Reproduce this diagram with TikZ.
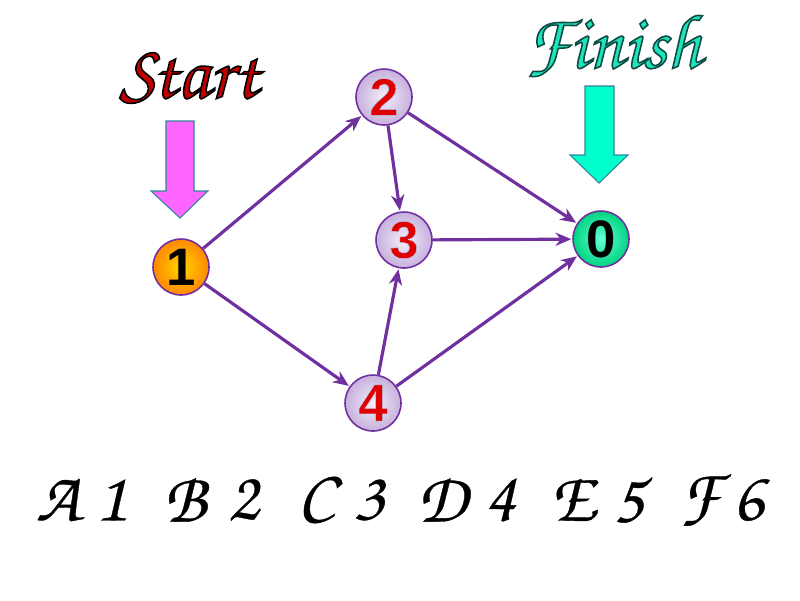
\documentclass[tikz,border=0pt]{standalone}
\usepackage{fontspec}
\setmainfont{Liberation Sans}
\newfontfamily\handfont{texgyrechorus-mediumitalic.otf}
\usetikzlibrary{arrows.meta}

\definecolor{edgepurple}{HTML}{7030A0}
\definecolor{startred}{HTML}{C00000}
\definecolor{finishteal}{HTML}{1FE3BA}
\definecolor{pinkfill}{HTML}{FF66FF}
\definecolor{mintfill}{HTML}{00FFCC}
\definecolor{arrowrim}{HTML}{31849B}
\definecolor{digitred}{HTML}{E00000}

% filled text with a stroked outline (text render mode 2)
\newcommand{\strokedtext}[3]{%
  \special{pdf:literal direct 2 Tr #2 w #1 RG}#3\special{pdf:literal direct 0 Tr}}

\tikzset{
  vertex/.style={circle, draw=edgepurple, line width=0.9pt,
    minimum size=1.12cm, inner sep=0pt,
    font=\fontsize{30}{30}\selectfont\bfseries},
  midvertex/.style={vertex, shading=radial,
    inner color={rgb,255:red,244;green,239;blue,249},
    outer color={rgb,255:red,198;green,176;blue,220},
    text=digitred},
  startvertex/.style={vertex, shading=radial,
    inner color={rgb,255:red,255;green,212;blue,0},
    outer color={rgb,255:red,255;green,136;blue,0}},
  endvertex/.style={vertex, shading=radial,
    inner color={rgb,255:red,100;green,255;blue,215},
    outer color={rgb,255:red,0;green,212;blue,128}},
  link/.style={draw=edgepurple, line width=1.8pt,
    -{Stealth[length=9pt,width=7.5pt]}, shorten >=0.5pt},
  bigarrow/.style={draw=arrowrim, line width=0.6pt, line join=miter},
  caption/.style={font=\handfont\fontsize{40}{40}\selectfont, inner sep=0pt},
  title/.style={font=\handfont\fontsize{44}{44}\selectfont, inner sep=0pt}
}

\begin{document}
\begin{tikzpicture}[x=0.02cm, y=-0.02cm]
  \useasboundingbox (0,0) rectangle (800,600);

  % vertices
  \node[startvertex] (n1) at (181,267) {1};
  \node[midvertex]   (n2) at (384,97)  {\strokedtext{0.7 0.82 0.96}{0.3}{2}};
  \node[midvertex]   (n3) at (404,240) {\strokedtext{0.7 0.82 0.96}{0.3}{3}};
  \node[midvertex]   (n4) at (373,403) {\strokedtext{0.7 0.82 0.96}{0.3}{4}};
  \node[endvertex]   (n0) at (601,239) {0};

  % precedence links
  \draw[link] (n1) -- (n2);
  \draw[link] (n1) -- (n4);
  \draw[link] (n2) -- (n3);
  \draw[link] (n2) -- (n0);
  \draw[link] (n3) -- (n0);
  \draw[link] (n4) -- (n3);
  \draw[link] (n4) -- (n0);

  % block arrows pointing at the start and finish vertices
  \draw[bigarrow, fill=pinkfill]
    (166,121) -- (194,121) -- (194,191) -- (208,191) -- (180,218)
    -- (151,191) -- (166,191) -- cycle;
  \draw[bigarrow, fill=mintfill]
    (585,86) -- (614,86) -- (614,155) -- (628,155) -- (599,183)
    -- (570,155) -- (585,155) -- cycle;

  % activity labels
  \foreach \lab/\xx [count=\i] in {A/58, 1/111, B/185, 2/243, C/316, 3/369,
                                  D/442, 4/500, E/572, 5/628, F/700, 6/748}
    \node[caption] (lab\i) at (\xx,500) {\strokedtext{0 0 0}{0.2}{\lab}};

  % titles
  \node[title, text=startred] (start) at (189,78)
    {\strokedtext{0 0 0}{0.9}{Start}};
  \node[title, text=finishteal] (finish) at (613,46)
    {\strokedtext{0.05 0.3 0.27}{0.9}{Finish}};
\end{tikzpicture}
\end{document}
